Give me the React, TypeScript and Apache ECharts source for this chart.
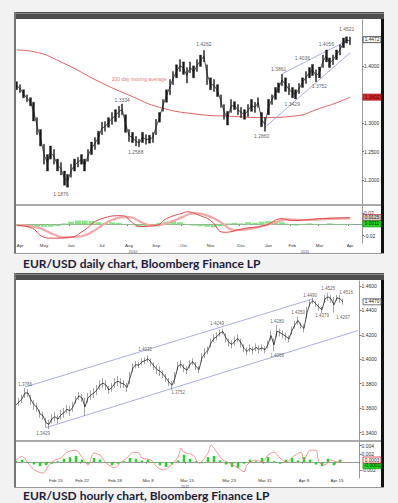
import React, { useEffect, useRef } from 'react';
import * as echarts from 'echarts';

// ---------- DAILY (Apr 2010 – Apr 2011) ----------
const dailyMonthIdx = [0, 8, 16, 25, 33, 41, 49, 57, 66, 74, 81, 89, 98];
const dailyMonthLabels = ['Apr', 'May', 'Jun', 'Jul', 'Aug', 'Sep', 'Oct', 'Nov', 'Dec', 'Jan', 'Feb', 'Mar', 'Apr'];
const DAILY_SLOTS = 102;

const dailyHigh = [
  1.3732, 1.3680, 1.3590, 1.3500, 1.3450, 1.3370, 1.3100, 1.2890, 1.2630, 1.2450,
  1.2600, 1.2540, 1.2370, 1.2310, 1.2160, 1.2100, 1.2280, 1.2370, 1.2400, 1.2450,
  1.2370, 1.2540, 1.2670, 1.2750, 1.2860, 1.3020, 1.3030, 1.3100, 1.3190, 1.3240,
  1.3300, 1.3340, 1.3150, 1.2890, 1.2840, 1.2770, 1.2720, 1.2840, 1.2800, 1.2790,
  1.2840, 1.3070, 1.3190, 1.3420, 1.3590, 1.3770, 1.3910, 1.4030, 1.4120, 1.4080,
  1.3980, 1.4080, 1.4010, 1.4120, 1.4200, 1.4282, 1.4030, 1.3800, 1.3770, 1.3680,
  1.3500, 1.3330, 1.3210, 1.3420, 1.3380, 1.3330, 1.3280, 1.3240, 1.3330, 1.3420,
  1.3370, 1.3450, 1.3190, 1.3100, 1.3420, 1.3500, 1.3630, 1.3710, 1.3861, 1.3800,
  1.3700, 1.3630, 1.3590, 1.3700, 1.3800, 1.3910, 1.3980, 1.4036, 1.3940, 1.3990,
  1.4200, 1.4290, 1.4150, 1.4200, 1.4290, 1.4380, 1.4500, 1.4521, 1.4520,
];
const dailyLow = [
  1.3592, 1.3540, 1.3450, 1.3380, 1.3310, 1.3040, 1.2800, 1.2600, 1.2280, 1.2160,
  1.2370, 1.2280, 1.2160, 1.2090, 1.1910, 1.1876, 1.2050, 1.2160, 1.2230, 1.2280,
  1.2160, 1.2330, 1.2450, 1.2540, 1.2630, 1.2800, 1.2860, 1.2930, 1.2980, 1.3030,
  1.3100, 1.3150, 1.2840, 1.2680, 1.2660, 1.2600, 1.2588, 1.2660, 1.2630, 1.2650,
  1.2660, 1.2800, 1.3020, 1.3210, 1.3370, 1.3500, 1.3680, 1.3800, 1.3910, 1.3860,
  1.3710, 1.3890, 1.3800, 1.3910, 1.4000, 1.4080, 1.3680, 1.3590, 1.3560, 1.3470,
  1.3280, 1.3070, 1.2969, 1.3190, 1.3240, 1.3150, 1.3100, 1.3070, 1.3120, 1.3210,
  1.3190, 1.3280, 1.2940, 1.2860, 1.3150, 1.3330, 1.3420, 1.3540, 1.3660, 1.3560,
  1.3500, 1.3450, 1.3429, 1.3520, 1.3630, 1.3700, 1.3800, 1.3840, 1.3730, 1.3800,
  1.3980, 1.4080, 1.3980, 1.4030, 1.4120, 1.4200, 1.4330, 1.4410, 1.4380,
];
// 200 day moving average: [bar index, value]
const dailyMA: [number, number][] = [
  [0, 1.429], [5, 1.426], [13, 1.408], [25, 1.371], [34, 1.347], [42, 1.328], [53, 1.316],
  [64, 1.312], [72, 1.310], [82, 1.313], [89, 1.326], [94, 1.336], [98, 1.346],
];
const dailyTrendLower: [number, number][] = [[73, 1.293], [98, 1.424]];
const dailyTrendUpper: [number, number][] = [[78, 1.387], [97, 1.445]];
const dailyMarks = [
  { name: '1.1876', value: [13, 1.1755] },
  { name: '1.3334', value: [31, 1.3417] },
  { name: '1.2588', value: [35, 1.249] },
  { name: '1.4282', value: [55, 1.4397] },
  { name: '1.2860', value: [72, 1.277] },
  { name: '1.3861', value: [77, 1.396] },
  { name: '1.3429', value: [81, 1.3347] },
  { name: '1.4036', value: [84, 1.4152] },
  { name: '1.3752', value: [89, 1.3662] },
  { name: '1.4056', value: [91, 1.4397] },
  { name: '1.4521', value: [97, 1.466] },
];
const dailyPriceTicks = [1.2, 1.25, 1.3, 1.4];
// oscillator
const dailyOsc: [number, number][] = [
  [0, -0.0017], [4, -0.0052], [8, -0.0226], [10, -0.0244], [16, -0.0226], [19, -0.0139],
  [25, 0.0104], [31, 0.0157], [34, 0.0035], [36, -0.0035], [41, -0.0017], [44, 0.0104],
  [49, 0.0209], [50, 0.0226], [54, 0.0157], [57, 0.007], [61, -0.0139], [67, -0.007],
  [73, -0.0017], [78, 0.0104], [81, 0.007], [89, 0.0104], [98, 0.0122],
];
const dailySignal: [number, number][] = [
  [0, -0.001], [6, -0.005], [11, -0.018], [14, -0.023], [19, -0.021], [23, -0.01],
  [28, 0.008], [33, 0.013], [37, 0.003], [40, -0.002], [45, 0.004], [49, 0.014],
  [52, 0.02], [56, 0.016], [60, 0.004], [64, -0.01], [70, -0.006], [75, 0.002],
  [80, 0.009], [85, 0.008], [92, 0.01], [98, 0.011],
];
const dailyHistIdx = [0, 2, 4, 6, 8, 10, 12, 14, 16, 18, 20, 22, 24, 26, 28, 30, 32, 34, 36, 38, 40, 42, 44, 46, 48,
  50, 52, 54, 56, 58, 60, 62, 64, 66, 68, 70, 72, 74, 76, 78, 80, 82, 84, 86, 88, 90, 92, 94, 96, 98];
const dailyHist = [
  -0.001, -0.002, -0.003, -0.004, -0.004, -0.004, -0.003, 0.002, 0.005, 0.007,
  0.007, 0.006, 0.004, 0.003, 0.004, 0.003, 0.001, -0.001, -0.003, -0.003,
  -0.002, 0.003, 0.005, 0.006, 0.004, -0.001, -0.002, -0.003, -0.004, -0.005,
  -0.003, 0.002, 0.003, 0.002, 0.004, 0.003, 0.005, 0.006, 0.006, 0.004,
  -0.001, -0.002, 0.001, 0.002, 0.001, -0.001, 0.002, 0.001, 0.001, 0.001,
];
const dailyOscTicks = [-0.02, 0.02];

// ---------- HOURLY (Feb – Apr 2011) ----------
const hourlyTickIdx = [11, 22, 33, 44, 57, 71, 83, 96, 107];
const hourlyTickLabels = ['Feb 15', 'Feb 22', 'Feb 28', 'Mar 8', 'Mar 15', 'Mar 23', 'Mar 31', 'Apr 8', 'Apr 15'];
const HOURLY_SLOTS = 115;

const hourlyHigh = [
  1.3668, 1.3684, 1.3709, 1.3765, 1.3757, 1.3709, 1.3668, 1.3644, 1.3587, 1.3571,
  1.3522, 1.3506, 1.3555, 1.3571, 1.3547, 1.3587, 1.3603, 1.3628, 1.3619, 1.3652,
  1.3700, 1.3733, 1.3717, 1.3684, 1.3725, 1.3749, 1.3765, 1.3790, 1.3830, 1.3846,
  1.3830, 1.3781, 1.3806, 1.3846, 1.3862, 1.3846, 1.3830, 1.3806, 1.3895, 1.3968,
  1.3984, 1.3976, 1.4008, 1.4016, 1.4032, 1.4008, 1.3976, 1.3952, 1.3943, 1.3911,
  1.3879, 1.3846, 1.3822, 1.3895, 1.3976, 1.3992, 1.3960, 1.3943, 1.3992, 1.4008,
  1.3976, 1.3943, 1.4049, 1.4089, 1.4105, 1.4170, 1.4203, 1.4219, 1.4243, 1.4249,
  1.4211, 1.4170, 1.4154, 1.4186, 1.4203, 1.4170, 1.4122, 1.4097, 1.4122, 1.4105,
  1.4130, 1.4114, 1.4122, 1.4105, 1.4154, 1.4235, 1.4170, 1.4280, 1.4251, 1.4235,
  1.4219, 1.4195, 1.4267, 1.4316, 1.4350, 1.4300, 1.4284, 1.4429, 1.4486, 1.4502,
  1.4478, 1.4454, 1.4429, 1.4527, 1.4543, 1.4527, 1.4510, 1.4527, 1.4527, 1.4494,
];
const hourlyLow = [
  1.3587, 1.3619, 1.3644, 1.3684, 1.3692, 1.3628, 1.3587, 1.3571, 1.3522, 1.3506,
  1.3441, 1.3429, 1.3474, 1.3490, 1.3474, 1.3506, 1.3522, 1.3555, 1.3538, 1.3571,
  1.3636, 1.3668, 1.3652, 1.3538, 1.3644, 1.3668, 1.3684, 1.3709, 1.3749, 1.3765,
  1.3749, 1.3717, 1.3733, 1.3765, 1.3781, 1.3765, 1.3765, 1.3733, 1.3798, 1.3895,
  1.3927, 1.3927, 1.3952, 1.3960, 1.3976, 1.3943, 1.3911, 1.3879, 1.3862, 1.3846,
  1.3814, 1.3781, 1.3752, 1.3798, 1.3911, 1.3927, 1.3895, 1.3879, 1.3927, 1.3952,
  1.3911, 1.3887, 1.3976, 1.4008, 1.4041, 1.4097, 1.4138, 1.4154, 1.4186, 1.4203,
  1.4138, 1.4105, 1.4089, 1.4114, 1.4138, 1.4097, 1.4057, 1.4033, 1.4057, 1.4041,
  1.4065, 1.4049, 1.4065, 1.4049, 1.4089, 1.4154, 1.4066, 1.4178, 1.4186, 1.4170,
  1.4154, 1.4138, 1.4203, 1.4251, 1.4284, 1.4251, 1.4219, 1.4332, 1.4429, 1.4454,
  1.4429, 1.4397, 1.4379, 1.4462, 1.4478, 1.4462, 1.4381, 1.4478, 1.4462, 1.4446,
];
const hourlyChannelUpper: [number, number][] = [[3, 1.3773], [99, 1.4494]];
const hourlyChannelLower: [number, number][] = [[10, 1.3441], [114, 1.4235]];
const hourlyMarks = [
  { name: '1.3766', value: [3, 1.379] },
  { name: '1.3429', value: [9, 1.3393] },
  { name: '1.4032', value: [43, 1.4081] },
  { name: '1.3752', value: [54, 1.3725] },
  { name: '1.4249', value: [67, 1.4292] },
  { name: '1.4066', value: [87, 1.4032] },
  { name: '1.4280', value: [87, 1.4308] },
  { name: '1.4350', value: [94, 1.4381] },
  { name: '1.4490', value: [98, 1.4518] },
  { name: '1.4379', value: [102, 1.4356] },
  { name: '1.4525', value: [104, 1.4575] },
  { name: '1.4267', value: [109, 1.434] },
  { name: '1.4516', value: [110, 1.4543] },
];
const hourlyPriceTicks = [1.34, 1.36, 1.38, 1.4, 1.42, 1.44, 1.46];
const hourlyOsc: [number, number][] = [
  [0, 0.0005], [2, 0.0014], [4, -0.0002], [6, -0.0019], [9, -0.0027], [11, -0.0007],
  [13, 0.0005], [15, 0.001], [17, 0.0024], [20, 0.0029], [22, 0.0012], [24, -0.0007],
  [26, 0.0022], [28, 0.0017], [30, -0.0002], [33, -0.0014], [35, 0], [37, 0.001],
  [39, 0.0024], [41, 0.0022], [42, 0.001], [45, 0.0005], [47, -0.0012], [49, -0.0019],
  [51, -0.0012], [54, 0.0012], [55, 0.0034], [56, 0.0024], [59, 0.0017], [61, -0.0003],
  [64, 0.0022], [65, 0.0041], [67, 0.0024], [69, 0.0005], [71, -0.0002], [74, -0.0014],
  [76, -0.0024], [77, -0.0007], [80, 0.0005], [82, 0], [84, 0.0017], [86, 0.0024],
  [88, 0.001], [90, 0], [93, 0.0017], [95, 0.0024], [96, 0.0005], [98, 0.0029],
  [100, 0.0029], [101, 0], [103, -0.0007], [105, 0.0005], [107, 0], [109, 0.0005],
];
const hourlyHist = [
  0.0003, 0.0006, -0.0002, -0.0006, -0.001, -0.0008, -0.0004, 0.0002, 0.0008, 0.0012,
  0.0015, 0.0006, -0.0004, 0.001, 0.0006, -0.0002, -0.0008, -0.0004, 0.0002, 0.001,
  0.0008, 0.0004, 0.0006, -0.0002, -0.0008, -0.0012, -0.0006, 0.0004, 0.0018, 0.0008,
  0.0002, -0.0003, 0.0012, 0.0015, 0.0004, -0.0006, -0.0012, -0.0015, -0.0004, 0.0006,
  0.0002, 0.001, 0.0012, 0.0002, -0.0004, 0.0006, 0.001, 0.0004, 0.0012, 0.0006,
  -0.0006, -0.001, 0.0008, -0.0008, 0.0006,
];
const hourlyOscTicks = [-0.002, 0.002, 0.004];

const CAPTION_DAILY = 'EUR/USD daily chart, Bloomberg Finance LP';
const CAPTION_HOURLY = 'EUR/USD hourly chart, Bloomberg Finance LP';

const TXT = '#333';
const AX = '#9a9a9a';
const FONT = 'Arial, "Liberation Sans", sans-serif';

function catAxis(gridIndex: number, n: number, showLabels: boolean, idx: number[], labels: string[]) {
  const cats = Array.from({ length: n }, (_, i) => String(i));
  const isTick = (i: number) => idx.indexOf(i) >= 0;
  return {
    type: 'category',
    gridIndex,
    data: cats,
    boundaryGap: true,
    axisLine: { show: showLabels, lineStyle: { color: AX, width: 1 } },
    axisTick: { show: showLabels, interval: (i: number) => isTick(i), length: 1.5, lineStyle: { color: '#777' } },
    axisLabel: {
      show: showLabels,
      interval: (i: number) => isTick(i),
      formatter: (_v: string, i: number) => {
        const k = idx.indexOf(i);
        return k >= 0 ? labels[k] : '';
      },
      alignMinLabel: 'left',
      fontSize: 4.4,
      color: TXT,
      margin: 0,
      fontFamily: FONT,
    },
    splitLine: { show: false },
  };
}

function valAxis(gridIndex: number, min: number, max: number, ticks: number[], digits: number) {
  return {
    type: 'value',
    gridIndex,
    position: 'right',
    min,
    max,
    scale: true,
    axisLine: { show: true, lineStyle: { color: AX, width: 1 } },
    axisTick: { show: true, length: 2, customValues: ticks, lineStyle: { color: '#777' } },
    axisLabel: {
      show: true,
      customValues: ticks,
      formatter: (v: number) => v.toFixed(digits),
      fontSize: 5,
      color: TXT,
      margin: 2,
      fontFamily: FONT,
    },
    splitLine: { show: false },
  };
}

function frame(prefix: string, top: number, height: number, sepY: number, caption: string, capY: number) {
  return [
    { type: 'rect', id: prefix + 'bg', z: -10, shape: { x: 14, y: top, width: 370, height }, style: { fill: '#ffffff' } },
    { type: 'rect', id: prefix + 'tb', z: 5, shape: { x: 14, y: top, width: 370, height: 7 }, style: { fill: '#4e4e4e' } },
    { type: 'rect', id: prefix + 'tb2', z: 5, shape: { x: 14, y: top + 1, width: 370, height: 1 }, style: { fill: '#8a8a8a' } },
    { type: 'rect', id: prefix + 'lb', z: 5, shape: { x: 14, y: top, width: 2, height }, style: { fill: '#777777' } },
    { type: 'rect', id: prefix + 'rb', z: 5, shape: { x: 381, y: top + 7, width: 3, height: height - 7 }, style: { fill: '#111111' } },
    { type: 'rect', id: prefix + 'bb', z: 5, shape: { x: 14, y: top + height - 1, width: 370, height: 1 }, style: { fill: '#999999' } },
    { type: 'rect', id: prefix + 'sep', z: 5, shape: { x: 16, y: sepY - 0.75, width: 365, height: 1.5 }, style: { fill: '#8c8c8c' } },
    {
      type: 'text', id: prefix + 'cap', z: 5, x: 23, y: capY,
      style: { text: caption, fill: '#1d1d3b', fontSize: 12, fontWeight: 'bold', fontFamily: 'Lato, "Open Sans", sans-serif', verticalAlign: 'middle' },
    },
  ];
}

function yearText(id: string, text: string, x: number, y: number) {
  return { type: 'text', id, z: 5, x, y, style: { text, fill: '#555', fontSize: 4, fontFamily: FONT, align: 'center', verticalAlign: 'middle' } };
}

function box(id: string, y: number, text: string, fill: string, stroke: string, color: string) {
  return {
    type: 'group', id, z: 20, x: 363, y: y - 3,
    children: [
      { type: 'rect', z: 20, shape: { x: 0, y: 0, width: 18, height: 6 }, style: { fill, stroke, lineWidth: 0.8 } },
      { type: 'text', z: 21, x: 9, y: 3.1, style: { text, fill: color, fontSize: 4.8, fontFamily: FONT, align: 'center', verticalAlign: 'middle' } },
    ],
  };
}

export default function App() {
  const ref = useRef<HTMLDivElement>(null);
  useEffect(() => {
    if (!ref.current) return;
    const chart = echarts.init(ref.current, null, { renderer: 'svg' });

    const dailyCandles = dailyHigh.map((h, i) => [dailyLow[i], h, dailyLow[i], h]);
    const hourlyCandles = hourlyHigh.map((h, i) => [hourlyLow[i], h, hourlyLow[i], h]);
    const dailyMid = dailyHigh.map((h, i) => (h + dailyLow[i]) / 2);
    const hourlyMid = hourlyHigh.map((h, i) => (h + hourlyLow[i]) / 2);
    const dailyHistData = dailyHistIdx.map((x, i) => [x, dailyHist[i]]);
    const hourlyHistData = hourlyHist.map((v, i) => [i * 2, v]);

    const candleStyle = { color: '#1a1a1a', color0: '#1a1a1a', borderColor: '#1a1a1a', borderColor0: '#1a1a1a', borderWidth: 0.4 };
    const markLabel = { show: true, position: 'inside', formatter: '{b}', fontSize: 5, color: '#333', fontFamily: FONT };

    chart.setOption({
      animation: false,
      backgroundColor: '#f2f2f2',
      grid: [
        { left: 15, top: 20, width: 347, height: 184 },
        { left: 15, top: 206, width: 347, height: 37 },
        { left: 14.5, top: 281, width: 345, height: 159.5 },
        { left: 14.5, top: 442, width: 345, height: 36 },
      ],
      xAxis: [
        catAxis(0, DAILY_SLOTS, false, dailyMonthIdx, dailyMonthLabels),
        catAxis(1, DAILY_SLOTS, true, dailyMonthIdx, dailyMonthLabels),
        catAxis(2, HOURLY_SLOTS, false, hourlyTickIdx, hourlyTickLabels),
        catAxis(3, HOURLY_SLOTS, true, hourlyTickIdx, hourlyTickLabels),
      ],
      yAxis: [
        valAxis(0, 1.158, 1.4817, dailyPriceTicks, 4),
        valAxis(1, -0.033, 0.033, dailyOscTicks, 2),
        valAxis(2, 1.3336, 1.464, hourlyPriceTicks, 4),
        valAxis(3, -0.0039, 0.0049, hourlyOscTicks, 3),
      ],
      series: [
        { type: 'line', xAxisIndex: 0, yAxisIndex: 0, data: dailyMA, smooth: true, symbol: 'none', lineStyle: { color: '#e06060', width: 1 }, z: 1 },
        { type: 'line', xAxisIndex: 0, yAxisIndex: 0, data: dailyTrendLower, symbol: 'none', lineStyle: { color: '#a9aee6', width: 1 }, z: 1 },
        { type: 'line', xAxisIndex: 0, yAxisIndex: 0, data: dailyTrendUpper, symbol: 'none', lineStyle: { color: '#a9aee6', width: 1 }, z: 1 },
        { type: 'line', xAxisIndex: 0, yAxisIndex: 0, data: dailyMid, symbol: 'none', lineStyle: { color: '#555', width: 1 }, z: 2 },
        { type: 'candlestick', xAxisIndex: 0, yAxisIndex: 0, data: dailyCandles, barWidth: 2, itemStyle: candleStyle, z: 3 },
        { type: 'scatter', xAxisIndex: 0, yAxisIndex: 0, data: dailyMarks, symbolSize: 1, itemStyle: { color: 'rgba(0,0,0,0)' }, label: markLabel, z: 10 },
        {
          type: 'scatter', xAxisIndex: 0, yAxisIndex: 0, data: [{ name: '200 day moving average', value: [36, 1.3785] }],
          symbolSize: 1, itemStyle: { color: 'rgba(0,0,0,0)' }, label: { ...markLabel, color: '#e05050' }, z: 10,
        },
        { type: 'bar', xAxisIndex: 1, yAxisIndex: 1, data: dailyHistData, barWidth: 6, itemStyle: { color: '#86e486' } },
        { type: 'line', xAxisIndex: 1, yAxisIndex: 1, data: dailySignal, smooth: true, symbol: 'none', lineStyle: { color: '#f3a8a8', width: 2.2 } },
        { type: 'line', xAxisIndex: 1, yAxisIndex: 1, data: dailyOsc, smooth: true, symbol: 'none', lineStyle: { color: '#e04848', width: 1 } },

        { type: 'line', xAxisIndex: 2, yAxisIndex: 2, data: hourlyChannelUpper, symbol: 'none', lineStyle: { color: '#a9aee6', width: 1 }, z: 1 },
        { type: 'line', xAxisIndex: 2, yAxisIndex: 2, data: hourlyChannelLower, symbol: 'none', lineStyle: { color: '#a9aee6', width: 1 }, z: 1 },
        { type: 'line', xAxisIndex: 2, yAxisIndex: 2, data: hourlyMid, symbol: 'none', lineStyle: { color: '#222', width: 0.8 }, z: 2 },
        { type: 'candlestick', xAxisIndex: 2, yAxisIndex: 2, data: hourlyCandles, barWidth: 1.2, itemStyle: candleStyle, z: 3 },
        { type: 'scatter', xAxisIndex: 2, yAxisIndex: 2, data: hourlyMarks, symbolSize: 1, itemStyle: { color: 'rgba(0,0,0,0)' }, label: { ...markLabel, fontSize: 4.5 }, z: 10 },
        { type: 'bar', xAxisIndex: 3, yAxisIndex: 3, data: hourlyHistData, barWidth: 2.5, itemStyle: { color: '#22d622' } },
        { type: 'line', xAxisIndex: 3, yAxisIndex: 3, data: hourlyOsc, smooth: 0.3, symbol: 'none', lineStyle: { color: '#ee7a7a', width: 0.8 } },
      ],
    });

    const py = (axis: number, v: number) => chart.convertToPixel({ yAxisIndex: axis }, v) as number;

    chart.setOption({
      graphic: [
        ...frame('d', 12, 242, 205, CAPTION_DAILY, 263),
        ...frame('h', 273, 215, 441, CAPTION_HOURLY, 495.5),
        yearText('y2010', '2010', 133, 251),
        yearText('y2011a', '2011', 305, 251),
        yearText('y2011b', '2011', 185, 486),
        box('b1', py(0, 1.4472), '1.4472', '#ffffff', '#333333', '#222'),
        box('b2', py(0, dailyMA[dailyMA.length - 1][1]), '1.3402', '#e52a2a', '#a01010', '#3a0000'),
        box('b3', py(1, 0.0125), '0.0125', '#d0d0d0', '#c04040', '#222'),
        box('b4', py(1, 0.0011), '0.0011', '#22dd22', '#119911', '#002200'),
        box('b5', py(2, 1.447), '1.4470', '#ffffff', '#555555', '#222'),
        box('b6', py(3, -0.0009), '-0.0001', '#22dd22', '#119911', '#002200'),
        box('b7', py(3, 0.0005), '0.0003', '#ffffff', '#d03030', '#222'),
      ],
    });

    return () => chart.dispose();
  }, []);

  return <div ref={ref} style={{ position: 'absolute', left: 0, top: 0, width: 398, height: 503 }} />;
}
